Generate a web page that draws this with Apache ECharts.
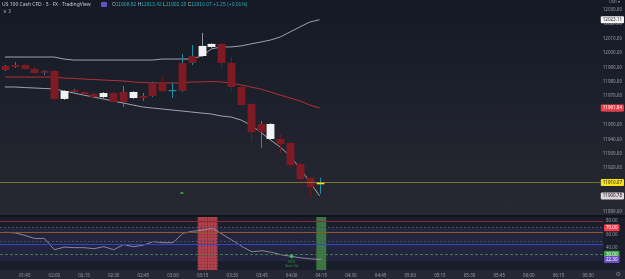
<!DOCTYPE html>
<html lang="en">
<head>
    <meta charset="UTF-8">
    <title>US 100 Cash CFD</title>
    <script src="https://cdn.jsdelivr.net/npm/echarts@6/dist/echarts.min.js"></script>
    <style>
        html, body { margin: 0; padding: 0; background: #252833; }
        #main {
            width: 625px; height: 279px;
            background: linear-gradient(to bottom, #151924 0px, #262932 215px, #10131c 215px, #10131c 217px, #1a1d2a 217px, #1a1d2a 270px, #252833 270px);
        }
    </style>
</head>
<body>
<div id="main"></div>
<script>
    // 5 minute candles, 01:35 .. 04:15
    var openV  = [11988.2, 11990.3, 11991.7, 11988.9, 11986.1, 11987.5, 11968.1, 11972.9, 11972.9, 11971.5, 11969.4, 11972.2, 11966.0, 11972.9, 11968.75, 11970.1, 11979.2, 11973.6, 11973.6, 11993.1, 11997.9, 12004.2, 12006.3, 11993.1, 11976.4, 11964.6, 11945.1, 11950.7, 11940.3, 11937.5, 11922.9, 11913.2, 11908.82];
    var closeV = [11991.0, 11991.7, 11988.9, 11986.1, 11987.5, 11968.1, 11973.6, 11974.3, 11971.5, 11969.4, 11972.2, 11966.0, 11972.9, 11968.75, 11970.1, 11979.2, 11973.6, 11974.3, 11993.1, 11997.9, 12004.9, 12006.3, 11993.1, 11976.4, 11963.9, 11945.1, 11950.7, 11940.3, 11936.8, 11922.2, 11912.5, 11906.9, 11910.07];
    var lowV   = [11987.5, 11989.6, 11988.2, 11985.4, 11984.7, 11966.7, 11967.4, 11972.2, 11970.8, 11968.1, 11968.75, 11965.3, 11962.5, 11968.1, 11966.7, 11969.4, 11972.9, 11968.75, 11972.9, 11991.7, 11997.2, 12003.5, 11988.9, 11973.6, 11963.2, 11938.9, 11934.0, 11939.6, 11930.6, 11920.1, 11909.7, 11900.0, 11902.15];
    var highV  = [11991.7, 11993.75, 11992.4, 11990.3, 11988.2, 11988.2, 11974.3, 11975.0, 11973.6, 11972.9, 11972.9, 11972.9, 11977.1, 11973.6, 11972.2, 11979.9, 11983.3, 11979.2, 11999.3, 12005.6, 12013.9, 12006.9, 12006.9, 11997.2, 11977.1, 11965.3, 11952.8, 11951.4, 11943.75, 11938.2, 11923.6, 11913.9, 11913.42];
    // body colour key: r = red, w = white, t = teal doji, y = live candle
    var bodyKind = ['r','r','r','r','r','r','w','r','r','r','w','r','r','w','r','r','r','t','r','r','w','w','r','r','r','r','r','w','r','r','r','r','y'];

    // bollinger bands
    var bbUpper = [11997.2, 11997.2, 11997.2, 11997.2, 11997.2, 11997.2, 11995.8, 11995.1, 11995.1, 11995.1, 11995.1, 11995.1, 11995.1, 11995.1, 11995.1, 11995.1, 11995.8, 11995.8, 11995.8, 11995.8, 11997.9, 12002.8, 12004.2, 12004.2, 12004.9, 12006.3, 12007.6, 12009.0, 12011.1, 12014.6, 12018.1, 12021.5, 12023.11];
    var bbBasis = [11983.3, 11983.3, 11983.3, 11983.3, 11983.3, 11983.3, 11982.6, 11982.3, 11981.9, 11981.6, 11981.2, 11980.9, 11980.6, 11979.9, 11979.5, 11979.2, 11979.2, 11979.2, 11979.2, 11979.9, 11979.9, 11980.2, 11979.9, 11979.2, 11977.8, 11976.4, 11975.0, 11972.9, 11970.8, 11968.75, 11966.7, 11963.9, 11961.84];
    var bbLower = [11976.4, 11976.4, 11976.0, 11975.7, 11975.35, 11975.0, 11973.6, 11972.2, 11970.8, 11969.4, 11968.1, 11966.7, 11965.3, 11963.9, 11962.5, 11961.8, 11961.1, 11960.4, 11959.7, 11959.0, 11958.3, 11957.6, 11956.25, 11955.55, 11953.5, 11950.0, 11945.1, 11939.6, 11934.7, 11928.5, 11920.1, 11910.4, 11900.78];

    // oscillator (lower pane)
    var osc = [63.1, 62.3, 58.5, 53.8, 53.8, 36.9, 40.8, 40.0, 40.0, 38.5, 41.5, 36.9, 44.6, 41.5, 43.8, 49.0, 47.5, 47.5, 61.5, 64.6, 66.2, 69.2, 60.0, 51.0, 41.5, 33.8, 35.4, 33.0, 29.2, 26.9, 24.6, 23.1, 22.3];
    var oscLevels = [80, 70, 63.4, 50, 45, 30];
    var redZone = ['03:15', '03:20'];
    var greenZone = ['04:15'];
    var priceSignal = {time: '03:05', value: 11902.8};
    var oscSignal = {time: '04:00', value: 27.3, text: '2602\nSaat: 04'};

    var lastPrice = 11910.07;

    // time categories 01:35 .. 06:35
    var times = [];
    for (var m = 95; m <= 395; m += 5) {
        var hh = Math.floor(m / 60), mm = m % 60;
        times.push((hh < 10 ? '0' : '') + hh + ':' + (mm < 10 ? '0' : '') + mm);
    }

    var myChart = echarts.init(document.getElementById('main'));
    var FONT = 'Noto Sans';
    var axisGray = '#9a9da6';

    var candleData = openV.map(function (o, i) {
        return [i, o, closeV[i], lowV[i], highV[i]];
    });

    function bodyColor(k) {
        return {r: '#7e1a24', w: '#f2f2f2', t: '#1d8ea1', y: '#f5dc16'}[k];
    }

    function boxLabel(bg, fg) {
        return {
            show: true, position: 'end', distance: 1,
            formatter: function (p) { return Number(p.value).toFixed(2); },
            backgroundColor: bg, color: fg, fontSize: 4.5, fontFamily: FONT,
            padding: [1, 2, 1, 2], borderRadius: 1
        };
    }

    function zoneBars(list) {
        return times.map(function (t) { return list.indexOf(t) >= 0 ? 90 : null; });
    }

    var option = {
        animation: false,
        backgroundColor: 'transparent',
        textStyle: {fontFamily: FONT},
        grid: [
            {left: -7, top: 0, width: 610, height: 215},
            {left: -7, top: 217, width: 610, height: 53}
        ],
        xAxis: [
            {type: 'category', gridIndex: 0, data: times, show: false},
            {
                type: 'category', gridIndex: 1, data: times,
                axisLine: {show: false}, axisTick: {show: false}, splitLine: {show: false},
                axisLabel: {
                    fontSize: 4.5, color: axisGray, margin: 3,
                    interval: function (idx, val) { return Number(val.slice(3)) % 15 === 0; }
                }
            }
        ],
        yAxis: [
            {
                type: 'value', gridIndex: 0, position: 'right', min: 11887.5, max: 12036.8, splitNumber: 15,
                axisLine: {show: false}, axisTick: {show: false}, splitLine: {show: false},
                axisLabel: {
                    fontSize: 4.5, color: axisGray, margin: 3, showMinLabel: false, showMaxLabel: false,
                    formatter: function (v) { return v.toFixed(2); }
                }
            },
            {
                type: 'value', gridIndex: 1, position: 'right', min: 6.5, max: 86, splitNumber: 4,
                axisLine: {show: false}, axisTick: {show: false}, splitLine: {show: false},
                axisLabel: {
                    fontSize: 4.5, color: axisGray, margin: 3, showMinLabel: false, showMaxLabel: false,
                    formatter: function (v) { return v.toFixed(2); }
                }
            }
        ],
        graphic: [
            {type: 'text', left: 2, top: 2, style: {text: 'US 100 Cash CFD · 5 · FX · TradingView', fill: '#c8cbd3', font: '5px "Noto Sans"'}},
            {type: 'rect', left: 101, top: 2, shape: {width: 6, height: 5, r: 1}, style: {fill: '#5b56c9'}},
            {
                type: 'text', left: 112, top: 2,
                style: {
                    text: '{k|O}{v|11908.82} {k|H}{v|11913.42} {k|L}{v|11902.15} {k|C}{v|11910.07} {v|+1.25 (+0.01%)}',
                    font: '5px "Noto Sans"',
                    rich: {k: {fill: '#b2b5be', fontSize: 5}, v: {fill: '#2aa6bd', fontSize: 5}}
                }
            },
            {type: 'text', left: 3, top: 9, style: {text: '∨ 3', fill: '#b2b5be', font: '4.5px "Noto Sans"'}},
            {type: 'text', right: 5, top: 0, style: {text: 'USD ▾', fill: '#9a9da6', font: '4px "Noto Sans"'}},
            {type: 'text', right: 4, bottom: 2, style: {text: '⚙', fill: '#7a7d86', font: '6px "DejaVu Sans"'}}
        ],
        series: [
            {
                name: 'Upper', type: 'line', xAxisIndex: 0, yAxisIndex: 0, data: bbUpper,
                showSymbol: false, lineStyle: {color: 'rgba(205,205,215,0.75)', width: 1}, z: 3,
                markLine: {
                    silent: true, symbol: 'none',
                    lineStyle: {color: 'transparent'},
                    label: boxLabel('#f4f4f4', '#131722'),
                    data: [{yAxis: bbUpper[bbUpper.length - 1]}]
                }
            },
            {
                name: 'Basis', type: 'line', xAxisIndex: 0, yAxisIndex: 0, data: bbBasis,
                showSymbol: false, lineStyle: {color: '#b3303a', width: 1}, z: 3,
                markLine: {
                    silent: true, symbol: 'none',
                    data: [
                        {yAxis: bbBasis[bbBasis.length - 1], lineStyle: {color: 'transparent'}, label: boxLabel('#ee3c4a', '#ffffff')},
                        {yAxis: lastPrice, lineStyle: {color: 'rgba(170,170,60,0.6)', width: 1, type: 'solid'}, label: boxLabel('#f5e21a', '#131722')}
                    ]
                }
            },
            {
                name: 'Lower', type: 'line', xAxisIndex: 0, yAxisIndex: 0, data: bbLower,
                showSymbol: false, lineStyle: {color: 'rgba(205,205,215,0.75)', width: 1}, z: 3,
                markLine: {
                    silent: true, symbol: 'none',
                    lineStyle: {color: 'transparent'},
                    label: boxLabel('#ddd3d8', '#131722'),
                    data: [{yAxis: bbLower[bbLower.length - 1]}]
                }
            },
            {
                name: 'Price', type: 'custom', xAxisIndex: 0, yAxisIndex: 0, z: 4,
                data: candleData,
                encode: {x: 0, y: [1, 2, 3, 4]},
                renderItem: function (params, api) {
                    var i = api.value(0);
                    var o = api.coord([i, api.value(1)]);
                    var c = api.coord([i, api.value(2)]);
                    var l = api.coord([i, api.value(3)]);
                    var h = api.coord([i, api.value(4)]);
                    var w = api.size([1, 0])[0] * 0.8;
                    var kind = bodyKind[params.dataIndex];
                    var wick = api.value(2) >= api.value(1) ? '#1d8ea1' : '#6e1820';
                    if (kind === 'w') wick = '#8f929a';
                    var x = Math.round(o[0]) + 0.5;
                    var top = Math.min(o[1], c[1]);
                    var bh = Math.max(Math.abs(o[1] - c[1]), 1.2);
                    return {
                        type: 'group',
                        children: [
                            {type: 'line', shape: {x1: x, y1: h[1], x2: x, y2: l[1]}, style: {stroke: wick, lineWidth: 1}},
                            {type: 'rect', shape: {x: x - w / 2, y: top, width: w, height: bh}, style: {fill: bodyColor(kind)}}
                        ]
                    };
                }
            },
            {
                name: 'Signal', type: 'scatter', xAxisIndex: 0, yAxisIndex: 0,
                data: [[priceSignal.time, priceSignal.value]],
                symbol: 'rect', symbolSize: [3, 2], itemStyle: {color: '#3fae4a'}
            },
            {
                name: 'Zone red', type: 'bar', xAxisIndex: 1, yAxisIndex: 1, data: zoneBars(redZone),
                barWidth: '100%', barGap: '-100%', silent: true, z: 1,
                itemStyle: {
                    color: 'rgba(196,72,84,0.85)',
                    decal: {symbol: 'rect', symbolSize: 1, color: 'rgba(110,20,32,0.55)', dashArrayX: [1, 2], dashArrayY: [1, 2]}
                }
            },
            {
                name: 'Zone green', type: 'bar', xAxisIndex: 1, yAxisIndex: 1, data: zoneBars(greenZone),
                barWidth: '100%', barGap: '-100%', silent: true, z: 1,
                itemStyle: {color: 'rgba(64,128,70,0.9)'}
            },
            {
                name: 'Osc', type: 'line', xAxisIndex: 1, yAxisIndex: 1, data: osc,
                showSymbol: false, lineStyle: {color: 'rgba(160,160,175,0.8)', width: 1}, z: 3,
                markArea: {
                    silent: true,
                    itemStyle: {color: 'rgba(70,65,130,0.22)'},
                    data: [[{yAxis: 70}, {yAxis: 20}]]
                },
                markLine: {
                    silent: true, symbol: 'none', label: {show: false},
                    data: [
                        {yAxis: oscLevels[0], lineStyle: {color: '#8e2a33', width: 1, type: 'solid'}},
                        {yAxis: oscLevels[1], lineStyle: {color: '#4b4f63', width: 1, type: [2, 2]}, label: boxLabel('#ee3c4a', '#ffffff')},
                        {yAxis: oscLevels[2], lineStyle: {color: '#8a5a26', width: 1, type: 'solid'}},
                        {yAxis: oscLevels[3], lineStyle: {color: '#4b4f63', width: 1, type: [2, 2]}},
                        {yAxis: oscLevels[4], lineStyle: {color: '#2c48c6', width: 1, type: 'solid'}},
                        {yAxis: oscLevels[5], lineStyle: {color: '#3c7a48', width: 1, type: [3, 2]}, label: boxLabel('#3fa34d', '#ffffff')},
                        {yAxis: osc[osc.length - 1], lineStyle: {color: 'transparent'}, label: boxLabel('#6a4fc0', '#ffffff')}
                    ]
                }
            },
            {
                name: 'Osc signal', type: 'scatter', xAxisIndex: 1, yAxisIndex: 1,
                data: [[oscSignal.time, oscSignal.value]],
                symbolSize: 4, itemStyle: {color: '#4cc05a'}, z: 5,
                label: {
                    show: true, position: 'bottom', distance: 2,
                    formatter: oscSignal.text, color: '#3fae4a', fontSize: 3.5, lineHeight: 4
                }
            }
        ]
    };

    myChart.setOption(option);
</script>
</body>
</html>
